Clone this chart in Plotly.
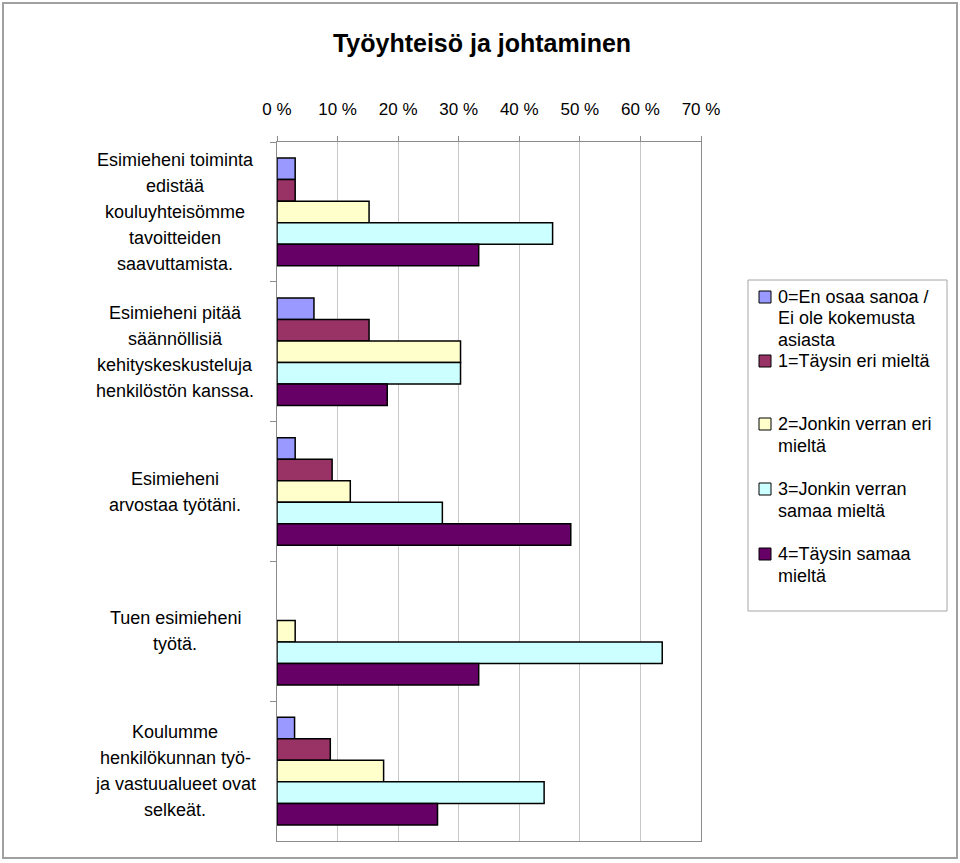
import plotly.graph_objects as go

W, H = 960, 863

title_text = "Työyhteisö ja johtaminen"

categories = [
    "Esimieheni toiminta<br>edistää<br>kouluyhteisömme<br>tavoitteiden<br>saavuttamista.",
    "Esimieheni pitää<br>säännöllisiä<br>kehityskeskusteluja<br>henkilöstön kanssa.",
    "Esimieheni<br>arvostaa työtäni.",
    "Tuen esimieheni<br>työtä.",
    "Koulumme<br>henkilökunnan työ-<br>ja vastuualueet ovat<br>selkeät.",
]

series_names = [
    "0=En osaa sanoa /<br>Ei ole kokemusta<br>asiasta",
    "1=Täysin eri mieltä",
    "2=Jonkin verran eri<br>mieltä",
    "3=Jonkin verran<br>samaa mieltä",
    "4=Täysin samaa<br>mieltä",
]

# percentages per category, one list per series
s0 = [3.0, 6.1, 3.0, 0.0, 2.9]
s1 = [3.0, 15.2, 9.1, 0.0, 8.8]
s2 = [15.2, 30.3, 12.1, 3.0, 17.6]
s3 = [45.5, 30.3, 27.3, 63.6, 44.1]
s4 = [33.3, 18.2, 48.5, 33.3, 26.5]
series_values = [s0, s1, s2, s3, s4]

colors = ["#9999FF", "#993366", "#FFFFCC", "#CCFFFF", "#660066"]

x_ticks = [0, 10, 20, 30, 40, 50, 60, 70]

FONT = "Liberation Sans, Arial, sans-serif"

fig = go.Figure()
for name, vals, col in zip(series_names, series_values, colors):
    fig.add_trace(go.Bar(
        y=categories, x=vals, orientation="h",
        name=name.replace("<br>", " "),
        marker=dict(color=col,
                    line=dict(color="black",
                              width=[1.5 if v > 0 else 0 for v in vals])),
        showlegend=False,
    ))

# plot area in pixel coords
px0, px1 = 277, 701
py0, py1 = 142, 841

annotations = []
# category labels, line by line, centered on each band
line_h = 26
for cat in categories:
    lines = cat.split("<br>")
    n = len(lines)
    for i, ln in enumerate(lines):
        annotations.append(dict(
            xref="paper", yref="y", x=175 / W, y=cat,
            text=ln, showarrow=False, xanchor="center", yanchor="middle",
            yshift=-(i - (n - 1) / 2) * line_h,
            font=dict(family=FONT, size=18, color="black"),
        ))

# manual legend
leg_x0, leg_x1, leg_y0, leg_y1 = 748, 947, 280, 611
item_y = [297, 361, 424, 489, 554]
leg_line_h = 21.5
shapes = [
    dict(type="rect", xref="paper", yref="paper",
         x0=leg_x0 / W, x1=leg_x1 / W, y0=1 - leg_y1 / H, y1=1 - leg_y0 / H,
         line=dict(color="#A6A6A6", width=1), fillcolor="white", layer="below"),
    dict(type="rect", xref="paper", yref="paper",
         x0=3 / W, x1=957 / W, y0=1 - 858 / H, y1=1 - 3 / H,
         line=dict(color="#A0A0A0", width=2), layer="below"),
]
for name, col, yc in zip(series_names, colors, item_y):
    shapes.append(dict(type="rect", xref="paper", yref="paper",
                       x0=759 / W, x1=771 / W, y0=1 - (yc + 6) / H, y1=1 - (yc - 6) / H,
                       line=dict(color="black", width=1), fillcolor=col))
    for i, ln in enumerate(name.split("<br>")):
        annotations.append(dict(
            xref="paper", yref="paper", x=776 / W, y=1 - (yc + i * leg_line_h) / H,
            text=ln, showarrow=False, xanchor="left", yanchor="middle",
            font=dict(family=FONT, size=18, color="black"),
        ))

fig.update_layout(
    template="none",
    width=W, height=H, autosize=False,
    margin=dict(l=0, r=0, t=0, b=0, pad=0),
    paper_bgcolor="white", plot_bgcolor="white",
    font=dict(family=FONT, size=17, color="black"),
    title=dict(text="<b>" + title_text + "</b>", x=482 / W, xanchor="center",
               y=1 - 43 / H, yanchor="middle", yref="paper",
               font=dict(family=FONT, size=25, color="black")),
    barmode="group", bargap=0.23, bargroupgap=0,
    showlegend=False,
    xaxis=dict(domain=[px0 / W, px1 / W], side="top", range=[0, 70],
               tickvals=x_ticks, ticktext=[f"{v} %" for v in x_ticks],
               showgrid=True, gridcolor="#C8C8C8", gridwidth=1,
               showline=True, linecolor="#8C8C8C", linewidth=1, mirror=True,
               ticks="outside", ticklen=5, tickcolor="#8C8C8C",
               ticklabelstandoff=14, zeroline=False, automargin=False,
               tickfont=dict(family=FONT, size=17, color="black")),
    yaxis=dict(domain=[1 - py1 / H, 1 - py0 / H], type="category",
               autorange="reversed", showticklabels=False,
               showline=True, linecolor="#8C8C8C", linewidth=1, mirror=True,
               ticks="outside", ticklen=6, tickcolor="#8C8C8C",
               tickson="boundaries", showgrid=False, automargin=False),
    annotations=annotations,
    shapes=shapes,
)

fig.write_html("out.html",
               config={"displayModeBar": False},
               post_script="document.body.style.margin='0';document.body.style.overflow='hidden';")
